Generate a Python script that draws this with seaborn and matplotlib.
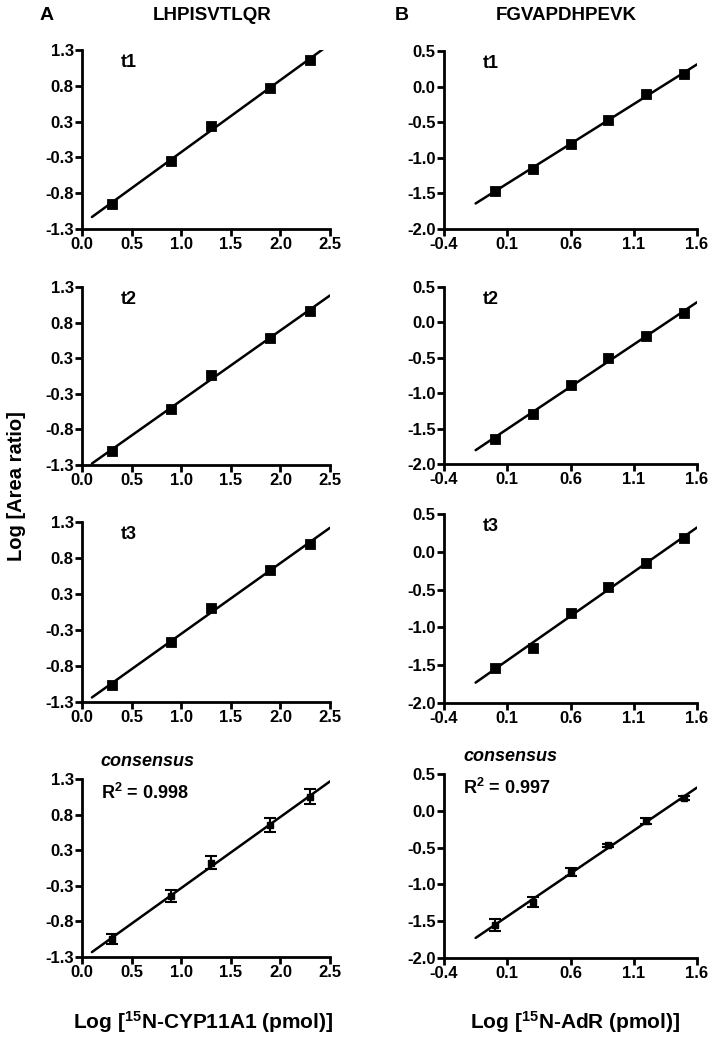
import numpy as np
import pandas as pd
import seaborn as sns
import matplotlib.pyplot as plt

# calibration data
cyp_x = [0.3, 0.9, 1.3, 1.9, 2.3]
cyp_t1 = [-0.93, -0.31, 0.19, 0.75, 1.16]
cyp_t2 = [-1.09, -0.48, 0.01, 0.56, 0.95]
cyp_t3 = [-1.05, -0.44, 0.06, 0.61, 0.98]
cyp_cons = [-1.04, -0.41, 0.08, 0.63, 1.04]
cyp_cons_err = [0.07, 0.09, 0.09, 0.10, 0.11]

adr_x = [0.0, 0.3, 0.6, 0.9, 1.2, 1.5]
adr_t1 = [-1.46, -1.16, -0.81, -0.47, -0.10, 0.18]
adr_t2 = [-1.64, -1.29, -0.89, -0.50, -0.19, 0.13]
adr_t3 = [-1.54, -1.27, -0.81, -0.46, -0.15, 0.18]
adr_cons = [-1.55, -1.24, -0.83, -0.47, -0.14, 0.17]
adr_cons_err = [0.08, 0.07, 0.05, 0.025, 0.04, 0.025]

row_labels = ["t1", "t2", "t3", "consensus"]
cyp_r2 = "0.998"
adr_r2 = "0.997"

sns.set_style("ticks")
plt.rcParams['font.family'] = ['Liberation Sans', 'DejaVu Sans']
plt.rcParams['font.weight'] = 'bold'
plt.rcParams['text.color'] = 'black'
plt.rcParams['axes.edgecolor'] = 'black'
plt.rcParams['xtick.color'] = 'black'
plt.rcParams['ytick.color'] = 'black'
plt.rcParams['mathtext.fontset'] = 'custom'
plt.rcParams['mathtext.rm'] = 'Liberation Sans:bold'
plt.rcParams['mathtext.bf'] = 'Liberation Sans:bold'
plt.rcParams['mathtext.default'] = 'rm'

W, H = 718, 1040
fig = plt.figure(figsize=(W / 100, H / 100), dpi=100)


def box(left, right, top, bottom):
    return [left / W, 1 - bottom / H, (right - left) / W, (bottom - top) / H]


cyp_boxes = [box(82, 330, 50, 229), box(82, 330, 287, 465),
             box(82, 330, 522, 702), box(82, 330, 779, 957)]
adr_boxes = [box(444, 697, 51, 229), box(444, 697, 287, 464),
             box(444, 697, 514, 703), box(444, 697, 774, 958)]

cyp_sets = [cyp_t1, cyp_t2, cyp_t3, cyp_cons]
adr_sets = [adr_t1, adr_t2, adr_t3, adr_cons]


def panel(pos, x, y, err, label, r2, xlim, ylim, xticks, yticks, line_x):
    ax = fig.add_axes(pos)
    df = pd.DataFrame({"x": x, "y": y})
    slope, icpt = np.polyfit(df["x"], df["y"], 1)
    fit = pd.DataFrame({"x": line_x})
    fit["y"] = slope * fit["x"] + icpt
    sns.lineplot(data=fit, x="x", y="y", ax=ax, color="black", lw=1.8)
    if err is None:
        sns.scatterplot(data=df, x="x", y="y", ax=ax, marker="s", s=55,
                        color="black", edgecolor="black", zorder=3)
    else:
        ax.errorbar(df["x"], df["y"], yerr=err, fmt="s", ms=4.5, color="black",
                    ecolor="black", elinewidth=1.5, capsize=4.5, capthick=1.5,
                    zorder=3)
    ax.set_xlim(xlim)
    ax.set_ylim(ylim)
    ax.set_xticks(xticks)
    ax.set_xticklabels([f"{v:.1f}" for v in xticks])
    ax.set_yticks(yticks)
    ax.set_yticklabels([f"{v:.1f}" for v in yticks])
    ax.set_xlabel("")
    ax.set_ylabel("")
    sns.despine(ax=ax)
    for s in ["left", "bottom"]:
        ax.spines[s].set_linewidth(2)
    ax.tick_params(width=2, length=5, labelsize=12, pad=1)
    for t in ax.get_xticklabels() + ax.get_yticklabels():
        t.set_fontweight("bold")
    if r2 is None:
        ax.text(0.155, 0.98, label, transform=ax.transAxes, fontsize=13,
                fontweight="bold", va="top", ha="left")
    else:
        ax.text(0.075, 1.05, label, transform=ax.transAxes, fontsize=13,
                fontweight="bold", style="italic", va="bottom", ha="left")
        ax.text(0.075, 0.98, r"R$^2$ = " + r2, transform=ax.transAxes,
                fontsize=13, fontweight="bold", va="top", ha="left")
    return ax


for i in range(4):
    is_cons = i == 3
    panel(cyp_boxes[i], cyp_x, cyp_sets[i], cyp_cons_err if is_cons else None,
          row_labels[i], cyp_r2 if is_cons else None, (0, 2.5), (-1.3, 1.3),
          [0.0, 0.5, 1.0, 1.5, 2.0, 2.5], np.linspace(-1.3, 1.3, 6),
          [0.1, 2.5])
    panel(adr_boxes[i], adr_x, adr_sets[i], adr_cons_err if is_cons else None,
          row_labels[i], adr_r2 if is_cons else None, (-0.4, 1.6), (-2.0, 0.5),
          [-0.4, 0.1, 0.6, 1.1, 1.6], [-2.0, -1.5, -1.0, -0.5, 0.0, 0.5],
          [-0.15, 1.6])

fig.text(40 / W, 1 - 16 / H, "A", fontsize=14, fontweight="bold", va="center")
fig.text(212 / W, 1 - 16 / H, "LHPISVTLQR", fontsize=13.5, fontweight="bold",
         va="center", ha="center")
fig.text(395 / W, 1 - 16 / H, "B", fontsize=14, fontweight="bold", va="center")
fig.text(566 / W, 1 - 16 / H, "FGVAPDHPEVK", fontsize=13.5, fontweight="bold",
         va="center", ha="center")
fig.text(17 / W, 1 - 486 / H, "Log [Area ratio]", fontsize=14.5,
         fontweight="bold", rotation=90, va="center", ha="center")
fig.text(203 / W, 1 - 1022 / H, r"Log [$^{15}$N-CYP11A1 (pmol)]", fontsize=15,
         fontweight="bold", va="center", ha="center")
fig.text(575 / W, 1 - 1022 / H, r"Log [$^{15}$N-AdR (pmol)]", fontsize=15,
         fontweight="bold", va="center", ha="center")

fig.savefig("out.png", dpi=100)
